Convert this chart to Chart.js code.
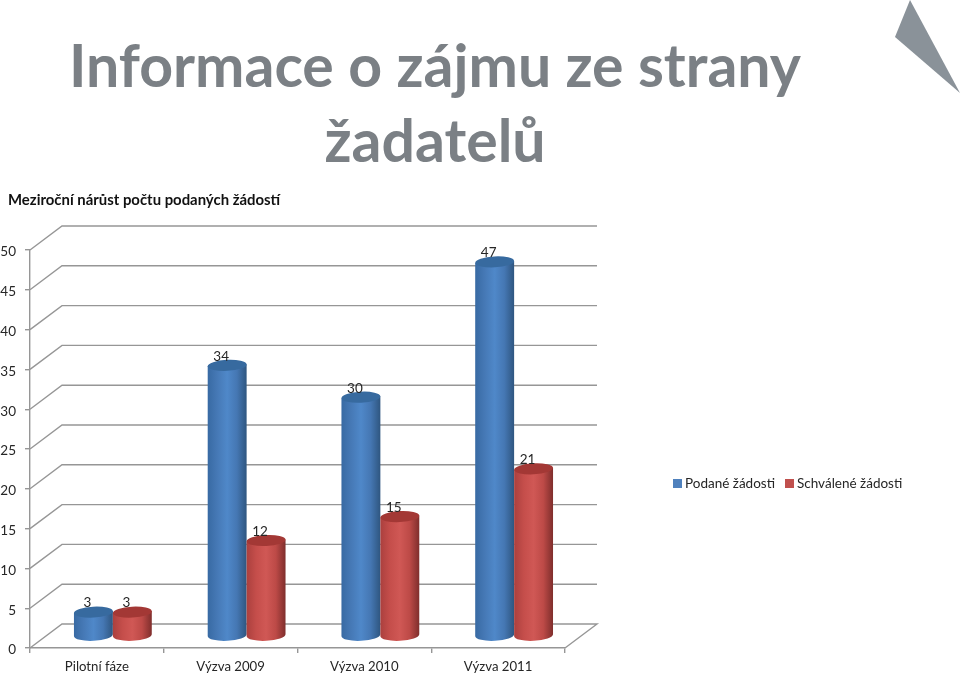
<!DOCTYPE html>
<html lang="cs">
<head>
<meta charset="utf-8">
<title>Informace o zájmu ze strany žadatelů</title>
<script src="https://cdn.jsdelivr.net/npm/chart.js@4/dist/chart.umd.min.js"></script>
<style>
  html, body { margin: 0; padding: 0; background: #fff; }
  body { width: 960px; height: 675px; position: relative; overflow: hidden; font-family: Lato, "Open Sans", sans-serif; }
  canvas { position: absolute; left: 0; top: 0; }
  #title { position: absolute; left: 0; top: 27px; width: 870px; text-align: center; font-size: 59px; line-height: 75px; font-weight: 700; color: #7b8085; white-space: nowrap; }
  #subtitle { position: absolute; left: 8px; top: 190px; font-size: 14.9px; line-height: 18px; font-weight: 700; color: #111; white-space: nowrap; }
  #corner { position: absolute; right: 0; top: 0; }
  #legend { position: absolute; left: 673px; top: 474px; font-size: 13.5px; line-height: 18px; color: #262626; white-space: nowrap; }
  #legend span.item { position: absolute; top: 0; }
  #legend i { position: absolute; top: 5px; width: 9px; height: 9px; }
</style>
</head>
<body>
<canvas id="chart" width="960" height="675"></canvas>
<div id="title">Informace o zájmu ze strany<br>žadatelů</div>
<div id="subtitle">Meziroční nárůst počtu podaných žádostí</div>
<svg id="corner" width="70" height="100"><polygon points="20,0 5,37 70,93" fill="#8a9299"/></svg>
<div id="legend"></div>
<script>
const categories = ["Pilotní fáze", "Výzva 2009", "Výzva 2010", "Výzva 2011"];
const seriesNames = ["Podané žádosti", "Schválené žádosti"];
const podane = [3, 34, 30, 47];
const schvalene = [3, 12, 15, 21];

const gridColor = "#969696";
const textColor = "#262626";
const labelFont = "13.5px Lato, sans-serif";

// how far the back wall sits behind the front axes
const depthX = 32;
const depthY = -24;

const blueStops = ["#386aa3", "#4679b6", "#4f88c9", "#4577b3", "#2f5680"];
const redStops = ["#ab403e", "#c54e4b", "#d05855", "#bd4a47", "#7f2e2c"];
const blueTop = "#376a9f";
const redTop = "#a33835";

function drawCylinder(ctx, el, stops, topColor) {
  const left = el.x - el.width / 2;
  const right = el.x + el.width / 2;
  const rx = el.width / 2;
  const ry = 5.5;
  const tilt = -0.05;

  const grad = ctx.createLinearGradient(left, 0, right, 0);
  stops.forEach((c, i) => grad.addColorStop(i / (stops.length - 1), c));

  ctx.fillStyle = grad;
  ctx.beginPath();
  ctx.moveTo(left, el.y + 1);
  ctx.lineTo(left, el.base + 1);
  ctx.ellipse(el.x, el.base, rx, ry, tilt, Math.PI, 0, true);
  ctx.lineTo(right, el.y - 1);
  ctx.closePath();
  ctx.fill();

  ctx.fillStyle = topColor;
  ctx.beginPath();
  ctx.ellipse(el.x, el.y, rx, ry, tilt, 0, Math.PI * 2);
  ctx.fill();
}

const wallPlugin = {
  id: "wall",
  beforeDatasetsDraw(chart) {
    const ctx = chart.ctx;
    const y = chart.scales.y;
    const area = chart.chartArea;
    ctx.save();
    ctx.strokeStyle = gridColor;
    ctx.lineWidth = 1.4;
    y.ticks.forEach((tick) => {
      const py = y.getPixelForValue(tick.value);
      ctx.beginPath();
      ctx.moveTo(area.left, py);
      ctx.lineTo(area.left + depthX, py + depthY);
      ctx.lineTo(area.right + depthX, py + depthY);
      if (tick.value === 0) {
        ctx.lineTo(area.right, py);
      }
      ctx.stroke();
    });
    ctx.restore();
  }
};

const cylinderPlugin = {
  id: "cylinders",
  beforeDatasetsDraw(chart) {
    const ctx = chart.ctx;
    ctx.save();
    ctx.translate(depthX / 2, depthY / 2);
    chart.data.datasets.forEach((ds, d) => {
      chart.getDatasetMeta(d).data.forEach((el) => {
        drawCylinder(ctx, el, ds.stops, ds.topColor);
      });
    });
    ctx.font = labelFont;
    ctx.fillStyle = textColor;
    ctx.textAlign = "center";
    ctx.textBaseline = "middle";
    chart.data.datasets.forEach((ds, d) => {
      chart.getDatasetMeta(d).data.forEach((el, i) => {
        ctx.fillText(ds.data[i], el.x - 6, el.y - 9);
      });
    });
    ctx.restore();
    return false;
  }
};

const ctx = document.getElementById("chart");

new Chart(ctx, {
  type: "bar",
  data: {
    labels: categories,
    datasets: [
      { label: seriesNames[0], data: podane, backgroundColor: "#4f81bd", stops: blueStops, topColor: blueTop },
      { label: seriesNames[1], data: schvalene, backgroundColor: "#c0504d", stops: redStops, topColor: redTop }
    ]
  },
  options: {
    responsive: false,
    animation: false,
    layout: { padding: { left: 0, right: 395, top: 250, bottom: 0 } },
    datasets: { bar: { categoryPercentage: 0.582, barPercentage: 1 } },
    plugins: {
      legend: { display: false },
      tooltip: { enabled: false }
    },
    scales: {
      x: {
        afterFit: (scale) => { scale.height = 27; },
        grid: { drawOnChartArea: false, tickLength: 5, color: gridColor, lineWidth: 1.4 },
        border: { color: gridColor, width: 1.4 },
        ticks: { color: textColor, font: { family: "Lato", size: 13.2 }, padding: 6, maxRotation: 0 }
      },
      y: {
        min: 0,
        max: 50,
        afterFit: (scale) => { scale.width = 30; },
        grid: { drawOnChartArea: false, tickLength: 5, color: gridColor, lineWidth: 1.4 },
        border: { color: gridColor, width: 1.4 },
        ticks: { stepSize: 5, color: textColor, font: { family: "Lato", size: 13.5 }, padding: 9, labelOffset: 2 }
      }
    }
  },
  plugins: [wallPlugin, cylinderPlugin]
});

// legend sits beside the plot in one row
const legendBox = document.getElementById("legend");
const legendX = [0, 112];
const legendColors = ["#4f81bd", "#c0504d"];
seriesNames.forEach((name, i) => {
  const item = document.createElement("span");
  item.className = "item";
  item.style.left = legendX[i] + "px";
  item.innerHTML = '<i style="background:' + legendColors[i] + '"></i><span style="margin-left:12px">' + name + "</span>";
  legendBox.appendChild(item);
});
</script>
</body>
</html>
